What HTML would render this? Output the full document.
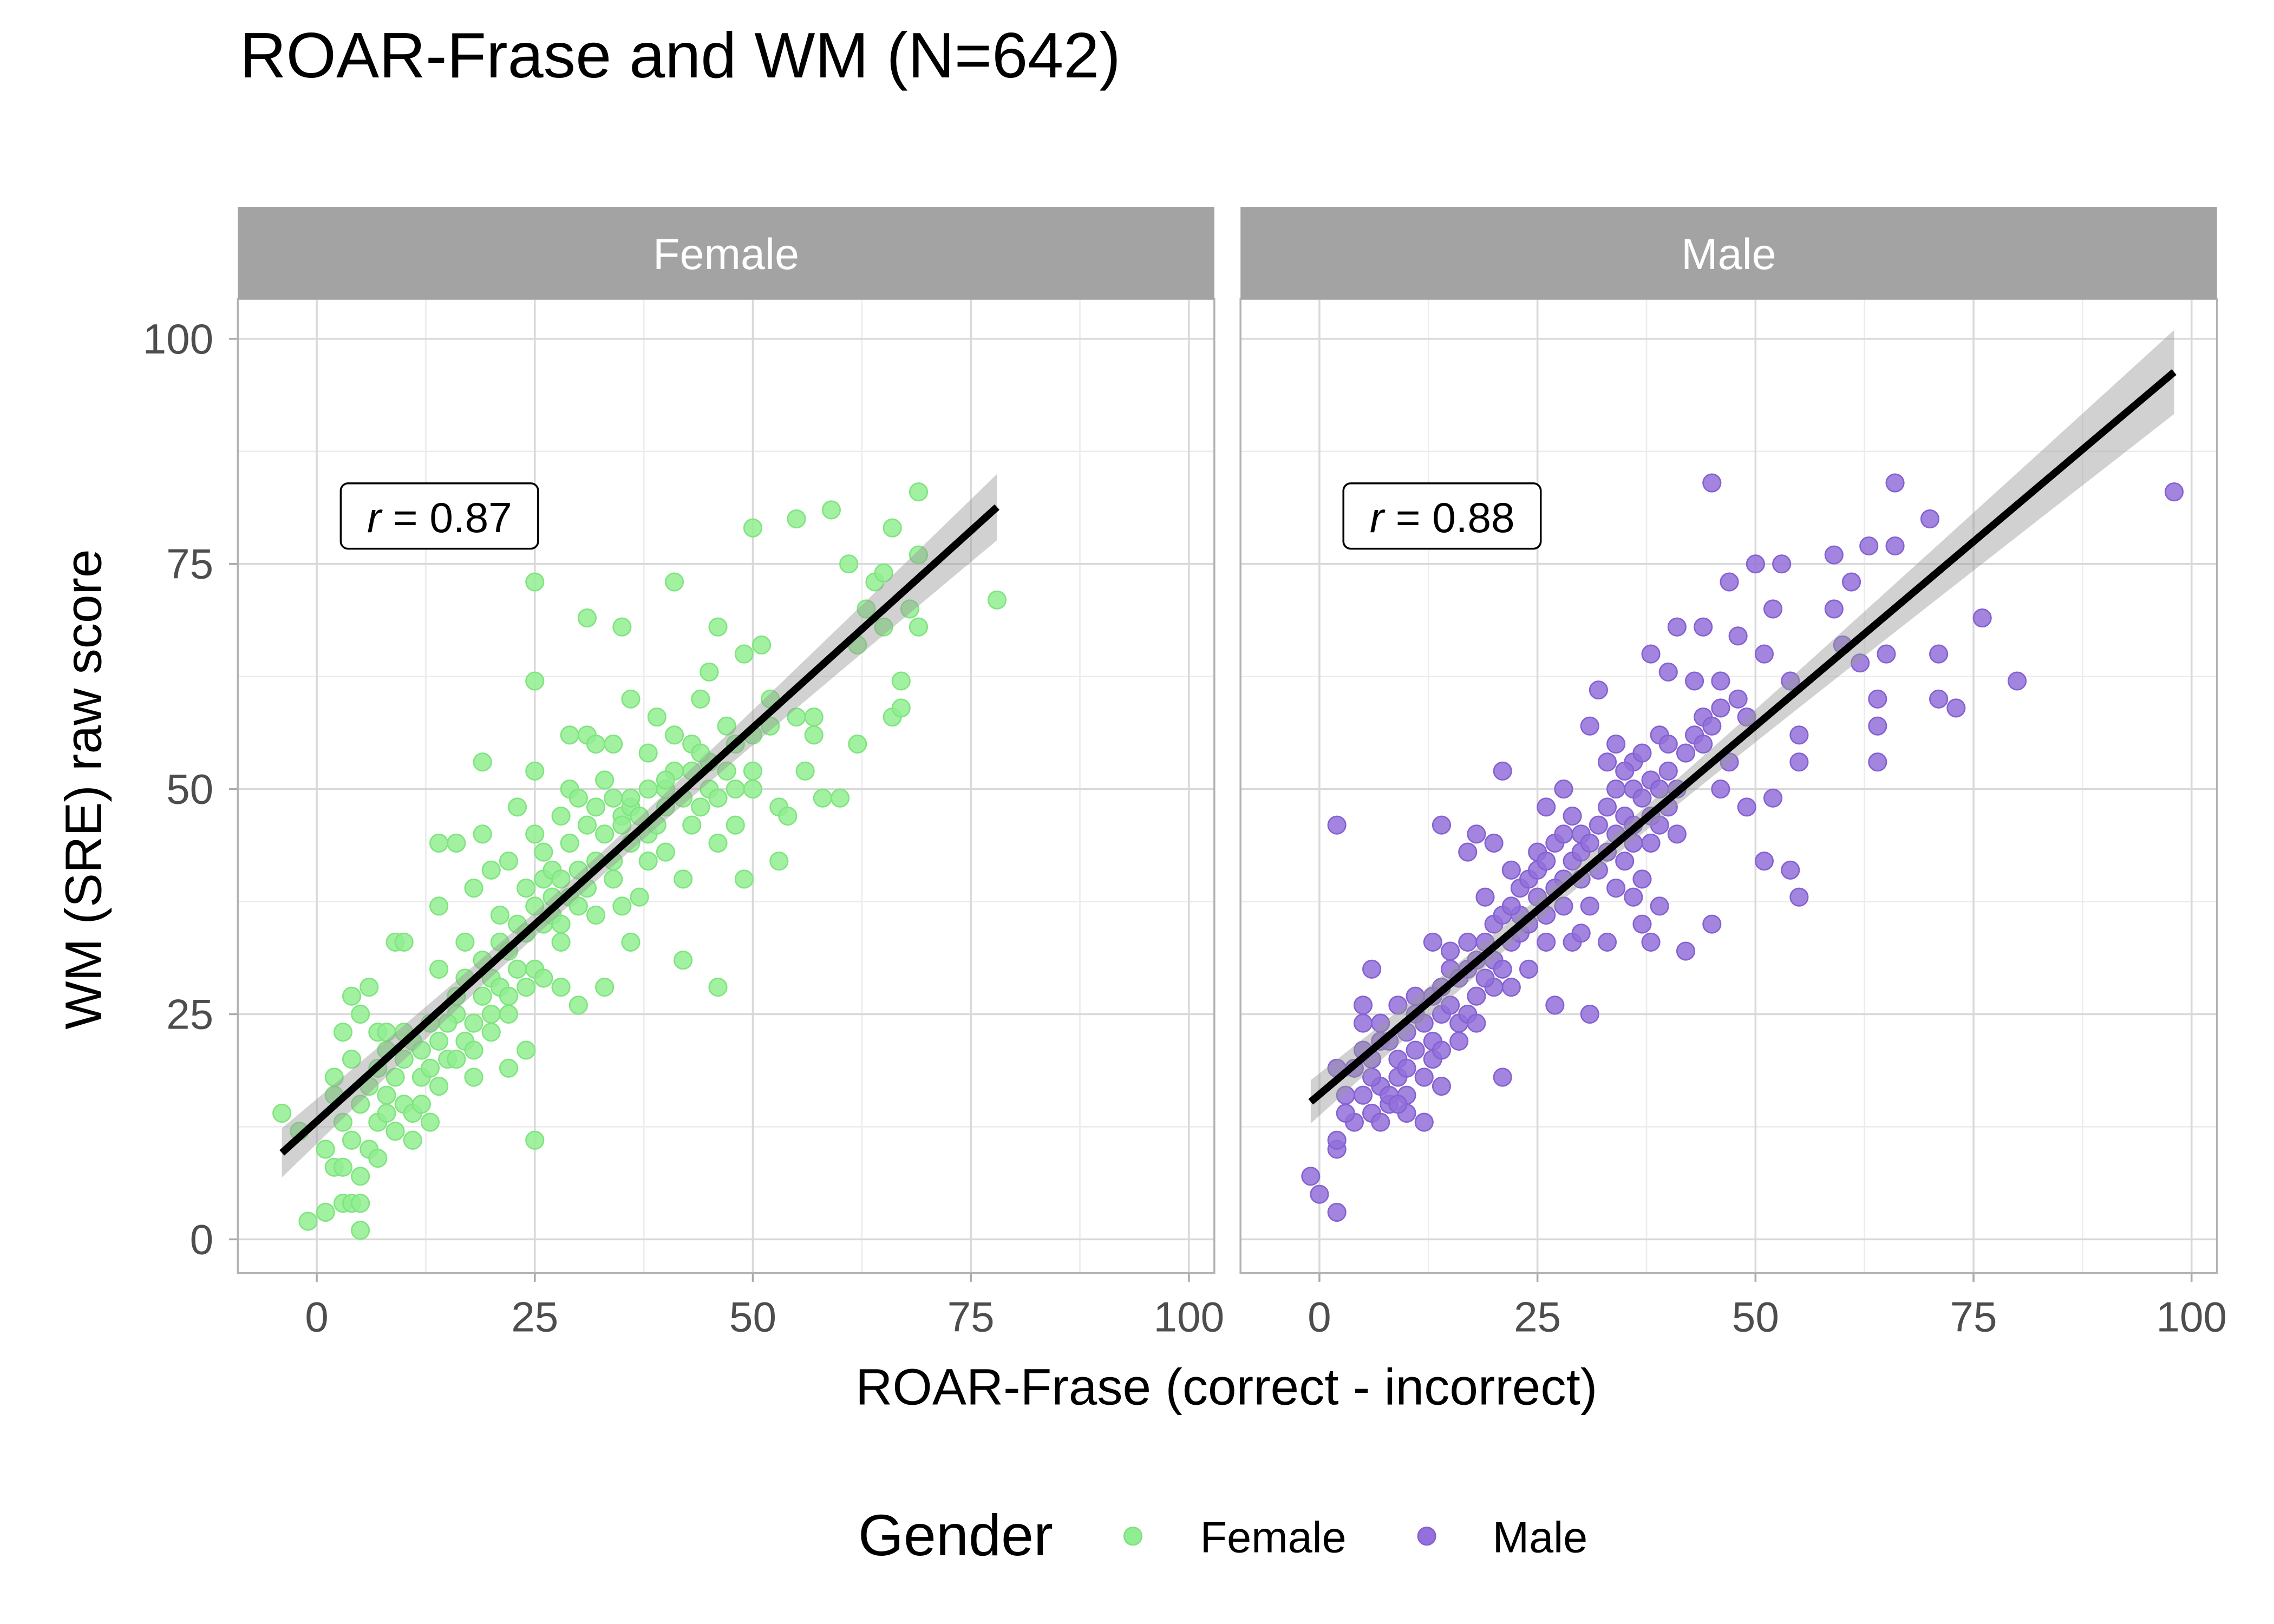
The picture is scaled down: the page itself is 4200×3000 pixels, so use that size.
<!DOCTYPE html>
<html><head><meta charset="utf-8">
<style>
html,body{margin:0;padding:0;background:#fff;}
svg{display:block;font-family:"Liberation Sans",sans-serif;}
</style></head>
<body>
<svg id="chart" width="4200" height="3000" viewBox="0 0 1555.6 1111.1" xmlns="http://www.w3.org/2000/svg">
<text x="164" y="53" font-size="44" fill="#000">ROAR-Frase and WM (N=642)</text>
<g id="panels"></g>
<text transform="translate(69,540) rotate(-90)" text-anchor="middle" font-size="35" fill="#000">WM (SRE) raw score</text>
<text x="839" y="961" text-anchor="middle" font-size="35" fill="#000">ROAR-Frase (correct - incorrect)</text>
<g>
<text x="587" y="1064" font-size="40" fill="#000">Gender</text>
<circle cx="775" cy="1051" r="6" fill="#90EE90" stroke="#7ee07e"/>
<text x="821" y="1062" font-size="30" fill="#000">Female</text>
<circle cx="976" cy="1051" r="6" fill="#9370DB" stroke="#8460d0"/>
<text x="1021" y="1062" font-size="30" fill="#000">Male</text>
</g>
</svg>
<script>
const xTicks=[0,25,50,75,100];
const yTicks=[0,25,50,75,100];
const facets=["Female","Male"];
const rLabels=["0.87","0.88"];
const femaleX=[-4,-2,-1,1,2,1,3,4,5,5,5,2,3,4,4,5,6,7,8,9,10,9,10,11,11,12,13,14,14,14,16,16,17,18,18,19,19,20,21,22,22,23,23,24,25,25,25,25,25,26,27,28,28,29,29,30,31,31,32,33,33,34,35,35,36,36,37,38,39,40,40,41,41,42,42,43,44,44,45,45,46,46,46,47,48,49,49,50,50,51,52,53,53,54,55,55,56,57,58,59,60,61,62,63,64,65,66,66,67,67,68,69,69,69,78,65,62,57,
5,6,7,7,8,8,9,10,10,11,12,13,14,15,15,16,17,17,18,19,19,20,20,21,21,22,22,23,24,24,25,25,26,26,27,27,28,28,29,29,30,30,31,31,32,32,33,34,34,35,35,36,36,37,38,38,39,40,41,42,43,44,45,47,48,50,52,3,4,2,6,7,3,8,12,13,14,16,18,20,22,24,26,28,30,32,34,36,38,40,43,46,48,50];
const femaleY=[14,12,2,10,8,3,4,4,4,1,7,18,23,20,27,25,28,23,23,33,33,12,15,11,14,18,24,30,37,44,44,25,33,39,18,45,53,41,36,42,19,30,48,21,73,62,45,11,52,40,38,33,28,56,50,26,69,56,48,51,28,42,68,47,60,33,38,45,58,50,43,73,56,40,31,52,60,48,63,53,68,44,28,57,50,65,40,79,52,66,60,48,42,47,58,80,52,58,49,81,49,75,55,70,73,74,79,58,62,59,70,68,76,83,71,68,66,56,
15,17,13,19,16,21,18,20,23,22,21,19,22,24,20,27,22,29,24,27,31,29,25,33,28,32,27,35,34,28,37,30,35,29,41,36,40,35,38,44,41,37,39,46,42,36,45,40,49,46,37,48,44,47,50,42,46,48,52,49,55,54,50,52,55,56,57,13,11,16,10,9,8,14,15,13,17,20,21,23,25,39,43,47,49,55,55,49,54,51,46,49,46,50];
const maleX=[-1,0,2,2,2,2,2,4,5,5,5,6,6,7,7,8,9,9,10,11,12,13,13,14,14,15,16,17,17,18,19,20,20,21,21,22,23,24,25,26,27,28,28,29,30,31,31,32,33,34,35,36,36,37,37,38,38,39,40,41,41,42,43,44,44,45,45,46,47,48,49,49,50,51,52,52,53,54,54,55,55,55,59,59,60,61,62,63,64,64,64,65,66,66,70,71,71,73,76,80,98,51,40,46,
3,4,5,6,7,8,9,10,10,11,11,12,12,13,13,14,14,15,15,16,16,17,17,18,18,19,19,20,20,21,21,22,22,23,23,24,24,25,25,26,26,27,27,28,28,29,29,30,30,31,32,32,33,33,34,34,35,35,36,36,37,37,38,38,39,39,40,40,41,42,43,44,45,46,47,48,36,34,30,26,22,18,14,10,31,33,38,39,6,7,8,9,3];
const maleY=[7,5,3,10,11,19,46,13,16,24,26,20,30,17,22,15,18,26,16,27,13,20,33,46,25,30,24,33,43,45,38,28,44,52,18,41,36,30,43,48,26,40,50,33,45,57,25,61,53,55,42,50,53,35,40,47,65,56,63,45,68,32,62,58,68,35,84,62,73,67,58,48,75,65,70,49,75,62,41,38,56,53,76,70,66,73,64,77,60,57,53,65,77,84,80,65,60,59,69,62,83,42,48,50,
16,19,21,18,24,22,20,23,19,25,21,24,18,27,22,28,21,26,32,29,22,30,25,31,27,33,29,35,31,36,30,33,37,39,34,40,35,38,41,36,42,39,44,37,45,42,47,40,43,44,46,41,48,43,45,50,47,52,46,44,49,54,51,44,50,46,52,55,50,54,56,55,57,59,53,60,38,39,34,33,28,24,17,14,37,33,33,37,14,13,16,15,14];

const NS="http://www.w3.org/2000/svg";
const panelsG=document.getElementById('panels');
const panelLeft=[162.7,848.6], panelW=668, plotTop=204.5, plotBot=871, stripTop=141.5;
function mk(tag,attrs,parent){const e=document.createElementNS(NS,tag);for(const k in attrs)e.setAttribute(k,attrs[k]);parent.appendChild(e);return e;}
const datasets=[[femaleX,femaleY,"#90EE90","#80e480"],[maleX,maleY,"#9370DB","#8462d2"]];
facets.forEach((name,pi)=>{
  const L=panelLeft[pi];
  const xs=v=>L+54+v*5.966;
  const ys=v=>847.9-v*6.161;
  const g=mk('g',{},panelsG);
  
  
  for(let i=0;i<4;i++){const m=(xTicks[i]+xTicks[i+1])/2;
    const l1=mk('line',{x1:xs(m),x2:xs(m),y1:plotTop,y2:plotBot,stroke:'#ececec','stroke-width':1},g);
    
    const m2=(yTicks[i]+yTicks[i+1])/2;
    const l2=mk('line',{x1:L,x2:L+panelW,y1:ys(m2),y2:ys(m2),stroke:'#ececec','stroke-width':1},g);
    }
  xTicks.forEach(t=>{const l=mk('line',{x1:xs(t),x2:xs(t),y1:plotTop,y2:plotBot,stroke:'#d9d9d9','stroke-width':1.3},g);
    
    mk('line',{x1:xs(t),x2:xs(t),y1:plotBot,y2:plotBot+6,stroke:'#aaa','stroke-width':1.3},g);
    const tx=mk('text',{x:xs(t),y:911,'text-anchor':'middle','font-size':29,fill:'#4d4d4d'},g);tx.textContent=t;
    });
  yTicks.forEach(t=>{const l=mk('line',{x1:L,x2:L+panelW,y1:ys(t),y2:ys(t),stroke:'#d9d9d9','stroke-width':1.3},g);
    
    if(pi===0){mk('line',{x1:L-6,x2:L,y1:ys(t),y2:ys(t),stroke:'#aaa','stroke-width':1.3},g);
      const tx=mk('text',{x:146,y:ys(t)+10,'text-anchor':'end','font-size':29,fill:'#4d4d4d'},g);tx.textContent=t;
      }});
  const bd=mk('rect',{x:L,y:plotTop,width:panelW,height:plotBot-plotTop,fill:'none',stroke:'#b3b3b3','stroke-width':1.3},g);
  
  const st=mk('rect',{x:L,y:stripTop,width:panelW,height:plotTop-stripTop,fill:'#a3a3a3'},g);
  
  const stt=mk('text',{x:L+panelW/2,y:184,'text-anchor':'middle','font-size':30,fill:'#fff'},g);stt.textContent=name;
  
  const [X,Y,col,ecol]=datasets[pi];
  for(let i=0;i<X.length;i++){const c=mk('circle',{cx:xs(X[i]),cy:ys(Y[i]),r:6,fill:col,'fill-opacity':0.85,stroke:ecol,'stroke-width':1},g);
    }
  const n=X.length;let mx=0,my=0;for(let i=0;i<n;i++){mx+=X[i];my+=Y[i];}mx/=n;my/=n;
  let sxx=0,sxy=0;for(let i=0;i<n;i++){sxx+=(X[i]-mx)**2;sxy+=(X[i]-mx)*(Y[i]-my);}
  const b=sxy/sxx,a=my-b*mx;let sse=0;for(let i=0;i<n;i++)sse+=(Y[i]-a-b*X[i])**2;
  const s=Math.sqrt(sse/(n-2))*1.97;
  const xmin=Math.min(...X),xmax=Math.max(...X);
  let up=[],lo=[];for(let k=0;k<=40;k++){const x=xmin+(xmax-xmin)*k/40;const h=s*Math.sqrt(1/n+(x-mx)**2/sxx);
    up.push(xs(x)+','+ys(a+b*x+h));lo.unshift(xs(x)+','+ys(a+b*x-h));}
  const band=mk('polygon',{points:up.concat(lo).join(' '),fill:'#999','fill-opacity':0.45},g);
  
  const ln=mk('line',{x1:xs(xmin),y1:ys(a+b*xmin),x2:xs(xmax),y2:ys(a+b*xmax),stroke:'#000','stroke-width':5},g);
  
  const bx=mk('rect',{x:L+70.4,y:330.7,width:135,height:44.7,rx:5,fill:'#fff',stroke:'#000','stroke-width':1.3},g);
  
  const rt=mk('text',{x:L+138,y:364,'text-anchor':'middle','font-size':29,fill:'#000'},g);
  rt.innerHTML='<tspan font-style="italic">r</tspan> = '+rLabels[pi];
  
});
</script>
</body></html>
